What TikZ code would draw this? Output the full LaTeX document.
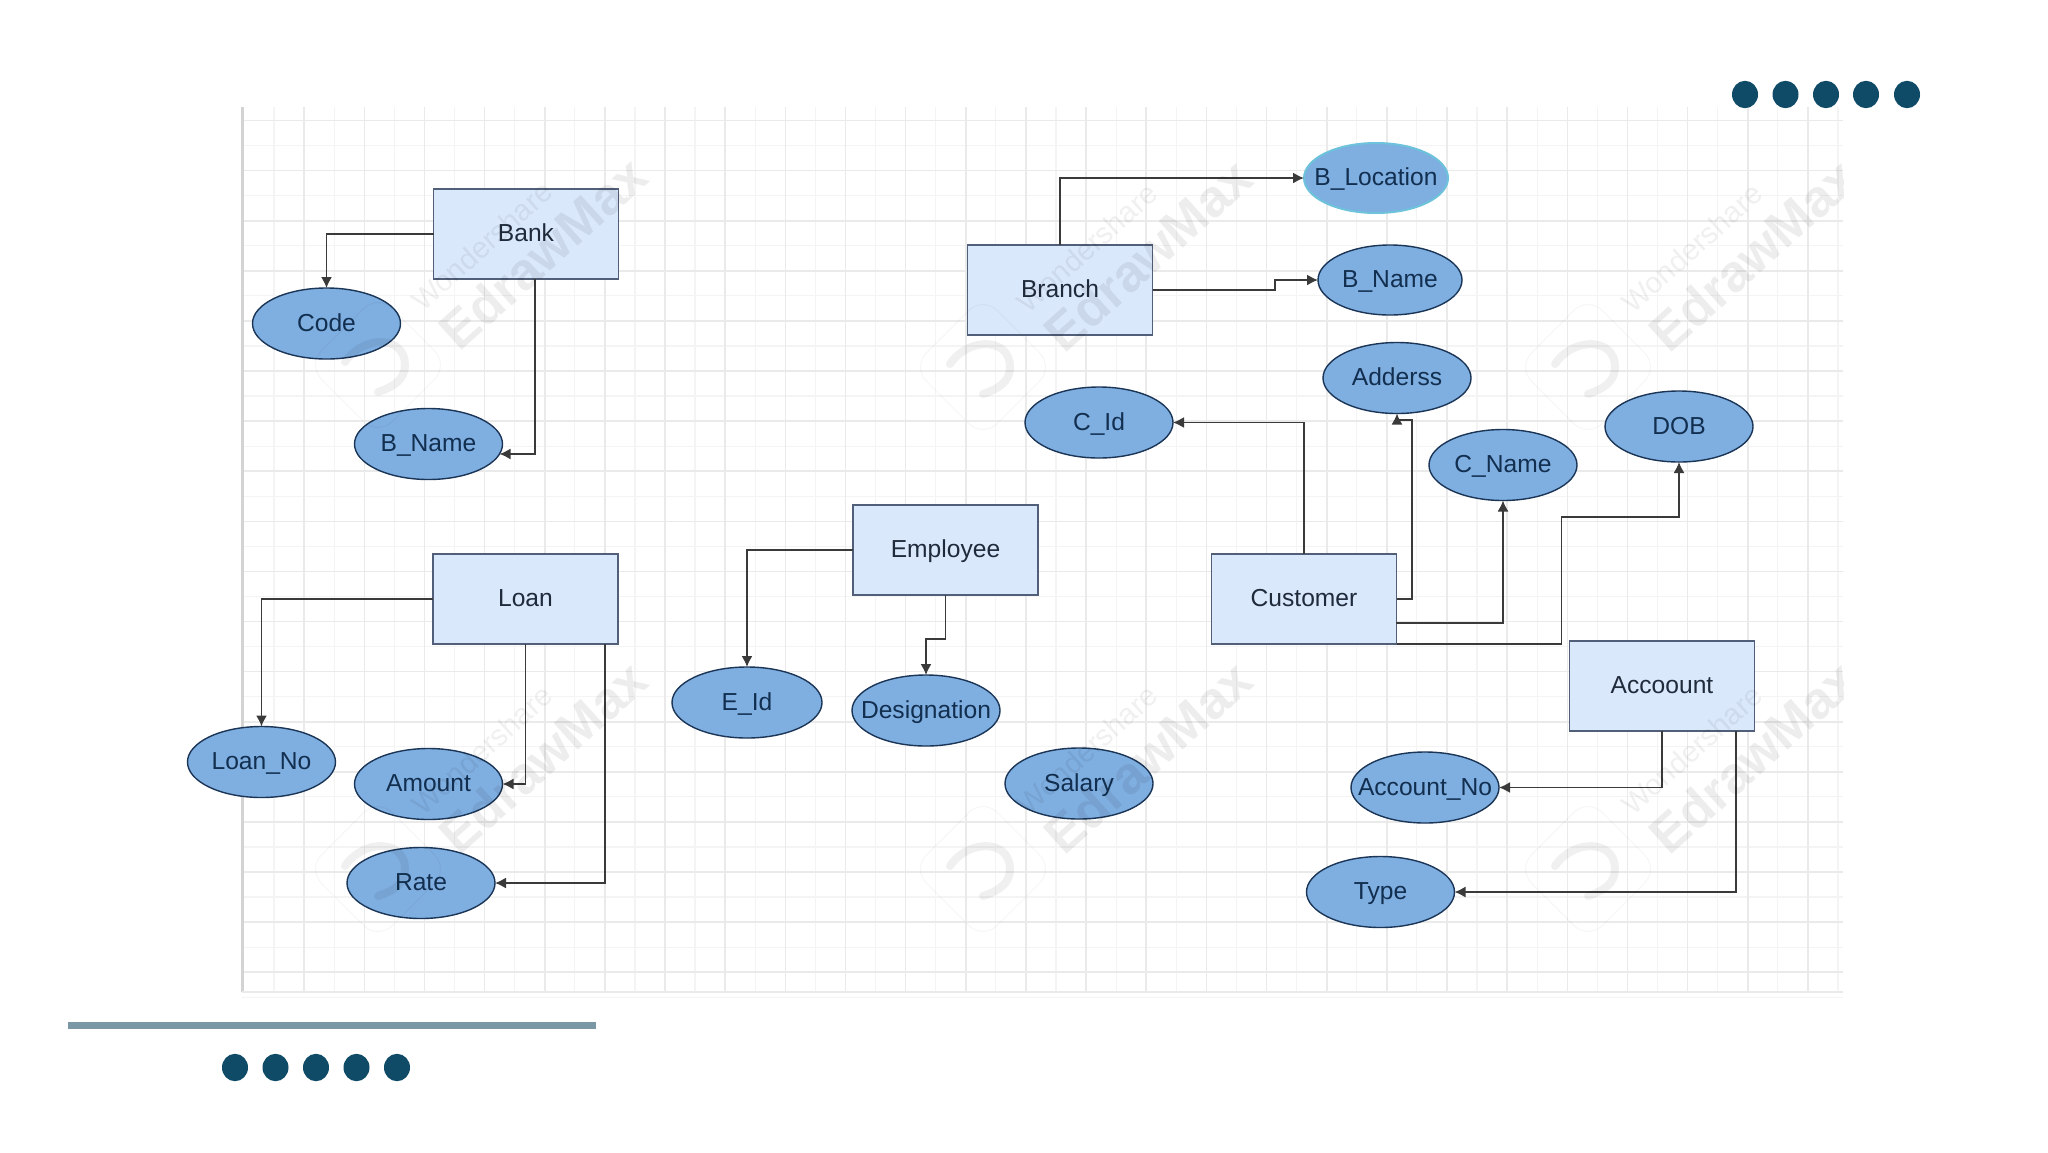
\documentclass[tikz,border=0pt]{standalone}
\usepackage{fontspec}
\setmainfont{Liberation Sans}
\usetikzlibrary{shapes.geometric,arrows.meta}
\definecolor{ellfill}{HTML}{7FAEE0}
\definecolor{ellline}{HTML}{1B3557}
\definecolor{ellcyan}{HTML}{6CC3DB}
\definecolor{entfill}{HTML}{DAE8FC}
\definecolor{entline}{HTML}{525F78}
\definecolor{enttext}{HTML}{1F2A3A}
\definecolor{elltext}{HTML}{122F50}
\definecolor{connline}{HTML}{3A3A3A}
\definecolor{gridmajor}{HTML}{EAEAEA}
\definecolor{gridminor}{HTML}{F4F4F4}
\definecolor{dotcolor}{HTML}{0F4A66}
\definecolor{barcolor}{HTML}{7A97A6}
\newcommand{\lbl}[1]{\makebox[0pt][c]{#1}}
\tikzset{
  entity/.style={draw=entline,fill=entfill,line width=1.8pt,minimum width=185pt,minimum height=90pt,inner sep=0pt,outer sep=0pt,font=\fontsize{24.6}{26}\selectfont,text=enttext,text height=15pt,text depth=0pt},
  attrib/.style={ellipse,draw=ellline,fill=ellfill,line width=1.4pt,minimum width=148pt,minimum height=71pt,inner sep=0pt,outer sep=0pt,font=\fontsize{24.6}{26}\selectfont,text=elltext,text height=15pt,text depth=0pt},
  attribcyan/.style={attrib,draw=ellcyan,line width=2pt,minimum width=144pt,minimum height=70pt},
  conn/.style={draw=connline,line width=1.6pt,-{Latex[length=11pt,width=11pt]}},
  gridmaj/.style={draw=gridmajor,line width=1.6pt},
  gridmin/.style={draw=gridminor,line width=1.2pt},
  wmbig/.style={font=\bfseries\fontsize{52}{56}\selectfont,text=black,text opacity=0.07,rotate=42,inner sep=0pt},
  wmsmall/.style={font=\fontsize{29.5}{32}\selectfont,text=black,text opacity=0.06,rotate=42,inner sep=0pt},
  dotmark/.style={fill=dotcolor}
}
\begin{document}
\begin{tikzpicture}[x=1pt,y=-1pt]
\useasboundingbox (0,0) rectangle (2048,1152);
\fill[white] (0,0) rectangle (2048,1152);
% grid
\foreach \k in {0,...,26} {
  \draw[gridmin] ({274+60.15*\k},107) -- ({274+60.15*\k},992);
}
\foreach \k in {0,...,17} {
  \draw[gridmin] (242,{145.5+50.1*\k}) -- (1843,{145.5+50.1*\k});
}
\foreach \k in {1,...,26} {
  \draw[gridmaj] ({244+60.15*\k},107) -- ({244+60.15*\k},992);
}
\foreach \k in {0,...,17} {
  \draw[gridmaj] (242,{120.5+50.1*\k}) -- (1843,{120.5+50.1*\k});
}
\draw[draw=gridmajor!90!black,line width=3pt] (242,107) -- (242,992);
\draw[draw=gridmajor,line width=2.2pt] (242,992) -- (1843,992);

% entities
\node[entity] (bank) at (526,234) {Bank};
\node[entity] (branch) at (1060,290) {Branch};
\node[entity] (employee) at (945.5,550) {Employee};
\node[entity] (customer) at (1304,599) {Customer};
\node[entity] (loan) at (525.5,599) {Loan};
\node[entity] (account) at (1662,686) {Accoount};

% attributes
\node[attrib] (code) at (326.5,323.5) {\lbl{Code}};
\node[attrib] (bname) at (428.5,444) {\lbl{B\_Name}};
\node[attrib] (loanno) at (261.5,762) {\lbl{Loan\_No}};
\node[attrib] (amount) at (428.5,784) {\lbl{Amount}};
\node[attrib] (rate) at (421,883) {\lbl{Rate}};
\node[attrib,minimum width=150pt] (eid) at (747,702.5) {\lbl{E\_Id}};
\node[attrib] (desig) at (926,710.5) {\lbl{Designation}};
\node[attrib] (salary) at (1079,783.5) {\lbl{Salary}};
\node[attrib] (cid) at (1099,422.5) {\lbl{C\_Id}};
\node[attribcyan] (bloc) at (1376,178) {\lbl{B\_Location}};
\node[attrib,minimum width=144pt,minimum height=70pt] (bname2) at (1390,280) {\lbl{B\_Name}};
\node[attrib] (addr) at (1397,378) {\lbl{Adderss}};
\node[attrib] (cname) at (1503,465) {\lbl{C\_Name}};
\node[attrib] (dob) at (1679,426.5) {\lbl{DOB}};
\node[attrib] (accno) at (1425,787.5) {\lbl{Account\_No}};
\node[attrib] (type) at (1380.5,892) {\lbl{Type}};

% free connector ends
\coordinate (bankB) at (535,279);
\coordinate (loanR) at (605,644);
\coordinate (custA) at (1412,420);
\coordinate (custC) at (1396,623);
\coordinate (custD) at (1561.5,517);
\coordinate (accR) at (1736,731);
\coordinate (empM) at (945.5,639);
\coordinate (brM) at (1275,290);

% connectors
\draw[conn] (bank.west) -| (code.north);
\draw[conn] (bankB) |- (bname.-8);
\draw[conn] (loan.west) -| (loanno.north);
\draw[conn] (loan.south) |- (amount.east);
\draw[conn] (loanR) |- (rate.east);
\draw[conn] (employee.west) -| (eid.north);
\draw[conn] (employee.south) -- (empM) -| (desig.north);
\draw[conn] (branch.north) |- (bloc.west);
\draw[conn] (branch.east) -- (brM) |- (bname2.west);
\draw[conn] (customer.north) |- (cid.east);
\draw[conn] (customer.east) -| (custA) -| (addr.south);
\draw[conn] (custC) -| (cname.south);
\draw[conn] (customer.south east) -| (custD) -| (dob.south);
\draw[conn] (account.south) |- (accno.east);
\draw[conn] (accR) |- (type.east);

% watermarks
\begin{scope}
\clip (242,107) rectangle (1843,992);
\foreach \wx/\wy/\wn in {543/253/a,1148/255/b,1753/255/c,543/757/d,1148/757/e,1753/757/f} {
  \begin{scope}[shift={(\wx,\wy)}]
    \node[wmbig] (wmbig\wn) at (0,0) {EdrawMax};
    \node[wmsmall] (wmsmall\wn) at (-61,-7) {Wondershare};
    \begin{scope}[shift={(-165,112)}]
      \draw[black,opacity=0.035,line width=1pt,rounded corners=20pt,rotate=45] (-50,-50) rectangle (50,50);
      \draw[black,opacity=0.06,line width=8pt,line cap=round] (-33,-3) .. controls (-15,-30) and (27,-30) .. (27,0) .. controls (27,15) and (15,22) .. (0,27);
    \end{scope}
  \end{scope}
}
\end{scope}

% decoration
\fill[barcolor] (68,1022) rectangle (596,1029);
\foreach \dx in {235,275.5,316,356.5,397} {
  \fill[dotmark] (\dx,1067.5) ellipse [x radius=13,y radius=13.7];
}
\foreach \dx in {1745,1785.5,1826,1866,1907} {
  \fill[dotmark] (\dx,94.5) ellipse [x radius=13,y radius=13.7];
}
\end{tikzpicture}
\end{document}
